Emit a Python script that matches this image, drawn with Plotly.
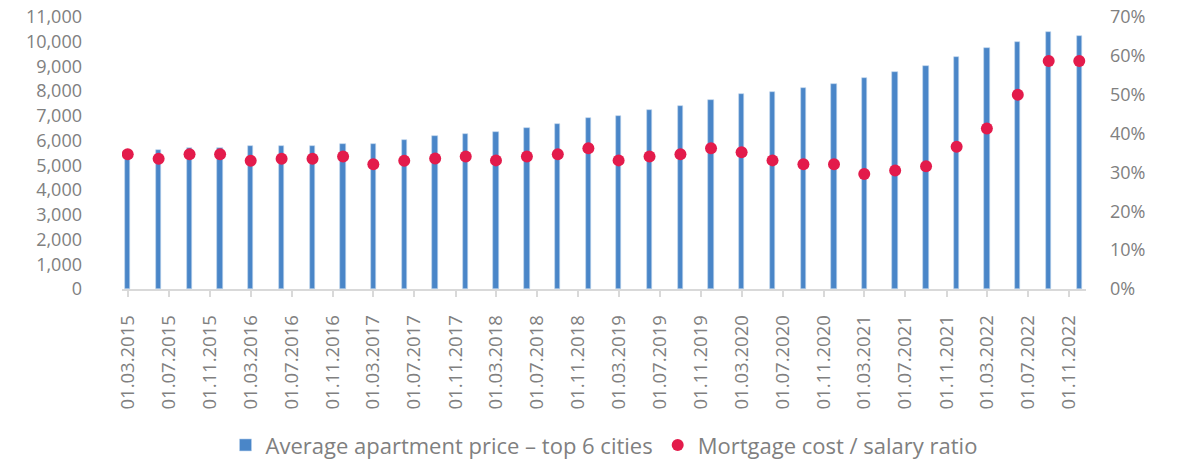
import plotly.graph_objects as go

dates = [
    "2015-03-01", "2015-06-01", "2015-09-01", "2015-12-01",
    "2016-03-01", "2016-06-01", "2016-09-01", "2016-12-01",
    "2017-03-01", "2017-06-01", "2017-09-01", "2017-12-01",
    "2018-03-01", "2018-06-01", "2018-09-01", "2018-12-01",
    "2019-03-01", "2019-06-01", "2019-09-01", "2019-12-01",
    "2020-03-01", "2020-06-01", "2020-09-01", "2020-12-01",
    "2021-03-01", "2021-06-01", "2021-09-01", "2021-12-01",
    "2022-03-01", "2022-06-01", "2022-09-01", "2022-12-01",
]
avg_price = [
    5500, 5620, 5700, 5700, 5800, 5800, 5800, 5870,
    5870, 6030, 6200, 6280, 6350, 6530, 6680, 6920,
    7000, 7240, 7410, 7650, 7880, 7970, 8120, 8280,
    8530, 8770, 9010, 9400, 9730, 9970, 10380, 10220,
]
mortgage_ratio = [
    0.347, 0.335, 0.347, 0.347, 0.330, 0.335, 0.335, 0.341,
    0.321, 0.330, 0.336, 0.341, 0.331, 0.341, 0.347, 0.362,
    0.331, 0.341, 0.347, 0.362, 0.352, 0.331, 0.321, 0.321,
    0.296, 0.305, 0.316, 0.366, 0.413, 0.500, 0.587, 0.587,
]
tick_dates = [
    "2015-03-01", "2015-07-01", "2015-11-01", "2016-03-01", "2016-07-01", "2016-11-01",
    "2017-03-01", "2017-07-01", "2017-11-01", "2018-03-01", "2018-07-01", "2018-11-01",
    "2019-03-01", "2019-07-01", "2019-11-01", "2020-03-01", "2020-07-01", "2020-11-01",
    "2021-03-01", "2021-07-01", "2021-11-01", "2022-03-01", "2022-07-01", "2022-11-01",
]
tick_text = [d[8:10] + "." + d[5:7] + "." + d[0:4] for d in tick_dates]

series_names = ["Average apartment price – top 6 cities", "Mortgage cost / salary ratio"]

GREY = "#808080"
BLUE = "#4A86C8"
RED = "#E31B4B"
FONT = "Open Sans"

fig = go.Figure()
fig.add_trace(go.Bar(
    x=dates, y=avg_price, name=series_names[0],
    width=16 * 86400000,
    marker=dict(color=BLUE, line=dict(color="#BCD3EC", width=0.6)),
    yaxis="y",
))
fig.add_trace(go.Scatter(
    x=dates, y=mortgage_ratio, name=series_names[1],
    mode="markers",
    marker=dict(color=RED, size=12, line=dict(width=0)),
    yaxis="y2",
))

fig.update_layout(
    width=1184, height=462,
    margin=dict(l=122, r=98, t=17, b=173, autoexpand=False),
    paper_bgcolor="white", plot_bgcolor="white",
    font=dict(family=FONT, color=GREY, size=18),
    showlegend=True,
    legend=dict(
        orientation="h", x=0.5, xanchor="center", y=-0.574, yanchor="middle",
        font=dict(family=FONT, size=22, color=GREY),
        traceorder="normal", itemwidth=30,
    ),
    xaxis=dict(
        type="date",
        range=["2015-02-12", "2022-12-21"],
        tickmode="array", tickvals=tick_dates, ticktext=tick_text,
        tickangle=-90,
        ticks="outside", ticklen=6, tickcolor="#D9D9D9", tickwidth=1.5,
        showline=True, linecolor="#D9D9D9", linewidth=1.5,
        showgrid=False, zeroline=False,
        ticklabelstandoff=11, automargin=False,
        tickfont=dict(family=FONT, size=18.5, color=GREY),
    ),
    yaxis=dict(
        range=[0, 11000], tickmode="array",
        tickvals=list(range(0, 11001, 1000)),
        tickformat=",d",
        showgrid=False, zeroline=False, showline=False,
        ticklabelstandoff=39, automargin=False,
        tickfont=dict(family=FONT, size=18, color=GREY),
    ),
    yaxis2=dict(
        overlaying="y", side="right",
        range=[0, 0.7], tickmode="array",
        tickvals=[0, 0.1, 0.2, 0.3, 0.4, 0.5, 0.6, 0.7],
        tickformat=".0%",
        showgrid=False, zeroline=False, showline=False,
        ticklabelstandoff=23, automargin=False,
        tickfont=dict(family=FONT, size=18, color=GREY),
    ),
    bargap=0,
)

fig.write_html(
    "out.html",
    config={"displayModeBar": False},
    post_script="document.body.style.margin='0';document.body.style.padding='0';",
)
